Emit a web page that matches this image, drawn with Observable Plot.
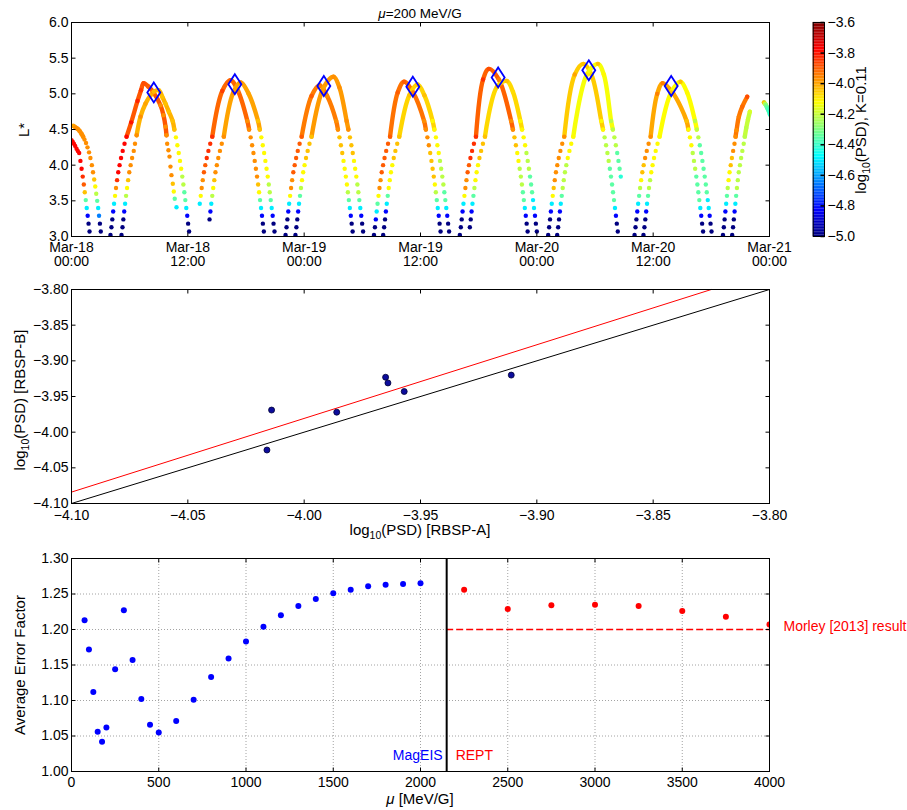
<!DOCTYPE html>
<html><head><meta charset="utf-8">
<script src="https://cdn.jsdelivr.net/npm/d3@7"></script>
<script src="https://cdn.jsdelivr.net/npm/@observablehq/plot@0.6"></script>
<style>
html,body{margin:0;padding:0;background:#fff;}
#chart{position:relative;width:907px;height:810px;font-family:"Liberation Sans",Arial,sans-serif;}
#chart svg{position:absolute;overflow:visible;background:transparent;font-family:"Liberation Sans",Arial,sans-serif;}
</style></head><body><div id="chart"></div>
<script>
// ---------------- DATA ----------------
// Top panel: L* vs time (hours after Mar-18 00:00), colour = log10(PSD); one array per pass
const trackA = [
 [[0,4.35,-3.78],[0.12,4.33,-3.78],[0.25,4.30,-3.78],[0.38,4.27,-3.78],[0.52,4.23,-3.78],[0.65,4.20,-3.78],[0.79,4.17,-3.78],[0.92,4.06,-3.78],[1.04,3.95,-3.78],[1.16,3.84,-3.84],[1.27,3.73,-3.9],[1.37,3.62,-4.04],[1.47,3.51,-4.35],[1.57,3.40,-4.5],[1.67,3.29,-4.82],[1.76,3.18,-5],[1.86,3.07,-5]],
 [[4.02,3.02,-5],[4.12,3.13,-5],[4.21,3.24,-5],[4.30,3.35,-4.82],[4.39,3.46,-4.5],[4.49,3.57,-4.12],[4.59,3.68,-3.97],[4.70,3.79,-3.84],[4.82,3.90,-3.78],[4.96,4.00,-3.78],[5.11,4.10,-3.78],[5.28,4.20,-3.78],[5.47,4.30,-3.78],[5.68,4.40,-3.78],[6.16,4.60,-3.8],[6.81,4.90,-3.82],[7.17,5.05,-3.85],[7.44,5.15,-3.88],[7.94,5.10,-3.9],[8.46,5.02,-3.93],[9.18,4.84,-3.97],[9.49,4.70,-3.97],[9.70,4.54,-3.97],[9.80,4.42,-3.97],[9.87,4.30,-3.97],[10.0,4.21,-3.97],[10.11,4.12,-3.97],[10.21,3.98,-3.97],[10.31,3.86,-3.97],[10.45,3.74,-4.04],[10.55,3.63,-4.12],[10.65,3.53,-4.35],[10.83,3.41,-4.5]],
 [[13.23,3.46,-4.5],[13.33,3.57,-4.12],[13.43,3.68,-3.97],[13.54,3.79,-3.97],[13.66,3.90,-3.9],[13.80,4.00,-3.9],[13.95,4.10,-3.84],[14.12,4.20,-3.84],[14.31,4.30,-3.84],[14.52,4.40,-3.84],[15.55,5.04,-3.86],[16.4,5.19,-3.9],[17.18,5.04,-3.95],[18.14,4.62,-3.97],[18.32,4.50,-3.97],[18.48,4.39,-3.97],[18.63,4.28,-3.97],[18.77,4.17,-3.97],[18.90,4.06,-3.97],[19.02,3.95,-3.97],[19.14,3.84,-3.97],[19.25,3.73,-4.04],[19.35,3.62,-4.12],[19.45,3.51,-4.35],[19.55,3.40,-4.5],[19.65,3.29,-4.82],[19.74,3.18,-5],[19.84,3.07,-5]],
 [[22.08,3.02,-5],[22.18,3.13,-5],[22.27,3.24,-5],[22.36,3.35,-4.82],[22.45,3.46,-4.5],[22.55,3.57,-4.12],[22.65,3.68,-3.97],[22.76,3.79,-3.97],[22.88,3.90,-3.9],[23.02,4.00,-3.9],[23.17,4.10,-3.9],[23.34,4.20,-3.9],[23.53,4.30,-3.9],[23.74,4.40,-3.9],[24.76,4.97,-3.9],[25.6,5.12,-3.95],[26.37,4.97,-3.97],[27.30,4.62,-3.97],[27.48,4.50,-3.97],[27.64,4.39,-4.04],[27.79,4.28,-4.04],[27.93,4.17,-4.04],[28.06,4.06,-4.12],[28.18,3.95,-4.12],[28.30,3.84,-4.12],[28.41,3.73,-4.12],[28.51,3.62,-4.22],[28.61,3.51,-4.35],[28.71,3.40,-4.5],[28.81,3.29,-4.82],[28.90,3.18,-5],[29.00,3.07,-5]],
 [[31.20,3.02,-5],[31.30,3.13,-5],[31.39,3.24,-4.82],[31.48,3.35,-4.5],[31.57,3.46,-4.35],[31.67,3.57,-4.12],[31.77,3.68,-3.97],[31.88,3.79,-3.97],[32.00,3.90,-3.9],[32.14,4.00,-3.9],[32.29,4.10,-3.9],[32.46,4.20,-3.9],[32.65,4.30,-3.9],[32.86,4.40,-3.9],[33.65,5.02,-3.9],[34.3,5.17,-3.9],[35.23,5.02,-3.95],[36.37,4.62,-3.97],[36.55,4.50,-3.97],[36.71,4.39,-3.97],[36.86,4.28,-3.97],[37.00,4.17,-4.04],[37.13,4.06,-4.04],[37.25,3.95,-4.04],[37.37,3.84,-4.04],[37.48,3.73,-4.12],[37.58,3.62,-4.22],[37.68,3.51,-4.35],[37.78,3.40,-4.5],[37.88,3.29,-4.82],[37.97,3.18,-5],[38.07,3.07,-5]],
 [[40.06,3.02,-5],[40.16,3.13,-5],[40.25,3.24,-5],[40.34,3.35,-4.82],[40.43,3.46,-4.5],[40.53,3.57,-4.12],[40.63,3.68,-3.97],[40.74,3.79,-3.97],[40.86,3.90,-3.9],[41.00,4.00,-3.9],[41.15,4.10,-3.84],[41.32,4.20,-3.84],[41.51,4.30,-3.84],[41.72,4.40,-3.84],[42.45,5.20,-3.84],[43.05,5.35,-3.88],[44.09,5.20,-3.95],[45.35,4.62,-3.97],[45.53,4.50,-3.97],[45.69,4.39,-4.04],[45.84,4.28,-4.04],[45.98,4.17,-4.12],[46.11,4.06,-4.12],[46.23,3.95,-4.22],[46.35,3.84,-4.22],[46.46,3.73,-4.22],[46.56,3.62,-4.35],[46.66,3.51,-4.35],[46.76,3.40,-4.5],[46.86,3.29,-4.82],[46.95,3.18,-5],[47.05,3.07,-5]],
 [[49.17,3.02,-5],[49.27,3.13,-5],[49.36,3.24,-5],[49.45,3.35,-4.82],[49.54,3.46,-4.5],[49.64,3.57,-4.12],[49.74,3.68,-4.04],[49.85,3.79,-3.97],[49.97,3.90,-3.97],[50.11,4.00,-3.97],[50.26,4.10,-3.97],[50.43,4.20,-3.97],[50.62,4.30,-3.97],[50.83,4.40,-3.97],[51.91,5.27,-4.0],[52.8,5.42,-4.04],[53.63,5.27,-4.08],[54.65,4.62,-4.12],[54.83,4.50,-4.12],[54.99,4.39,-4.22],[55.14,4.28,-4.22],[55.28,4.17,-4.22],[55.41,4.06,-4.22],[55.53,3.95,-4.35],[55.65,3.84,-4.35],[55.76,3.73,-4.35],[55.86,3.62,-4.35],[55.96,3.51,-4.35],[56.06,3.40,-4.5],[56.16,3.29,-4.82],[56.25,3.18,-5],[56.35,3.07,-5]],
 [[58.08,3.02,-5],[58.18,3.13,-5],[58.27,3.24,-5],[58.36,3.35,-4.82],[58.45,3.46,-4.5],[58.55,3.57,-4.35],[58.65,3.68,-4.22],[58.76,3.79,-4.12],[58.88,3.90,-4.04],[59.02,4.00,-4.04],[59.17,4.10,-3.97],[59.34,4.20,-3.97],[59.53,4.30,-3.97],[59.74,4.40,-3.97],[60.42,5.00,-3.95],[60.97,5.15,-3.95],[62.09,5.00,-4.0],[63.45,4.62,-4.04],[63.63,4.50,-4.12],[63.79,4.39,-4.12],[63.94,4.28,-4.12],[64.08,4.17,-4.22],[64.21,4.06,-4.22],[64.33,3.95,-4.22],[64.45,3.84,-4.35],[64.56,3.73,-4.35],[64.66,3.62,-4.35],[64.76,3.51,-4.35],[64.86,3.40,-4.5],[64.96,3.29,-4.82],[65.05,3.18,-5],[65.15,3.07,-5]],
 [[67.20,3.02,-5],[67.29,3.13,-5],[67.37,3.24,-5],[67.45,3.35,-4.82],[67.53,3.46,-4.5],[67.61,3.57,-4.35],[67.69,3.68,-4.22],[67.78,3.79,-4.12],[67.88,3.90,-4.12],[68.00,4.00,-4.04],[68.12,4.10,-4.04],[68.25,4.20,-3.97],[68.39,4.30,-3.97],[68.5,4.40,-3.97],[68.6,4.49,-3.97],[68.84,4.68,-3.95],[69.19,4.82,-3.92],[69.7,4.96,-3.88]],
 [[71.43,4.88,-4.04],[71.54,4.86,-4.22],[71.64,4.84,-4.3],[71.74,4.81,-4.35],[71.85,4.78,-4.38],[71.95,4.75,-4.4],[72.05,4.71,-4.42]]
];
const trackB = [
 [[0,4.55,-4.04],[0.2,4.55,-4.0],[0.41,4.53,-3.97],[0.62,4.51,-3.97],[0.83,4.48,-3.97],[1.03,4.44,-3.97],[1.2,4.40,-3.97],[1.34,4.36,-3.97],[1.5,4.31,-3.97],[1.65,4.25,-3.97],[1.81,4.18,-3.97],[1.95,4.10,-3.97],[2.10,4.00,-3.97],[2.22,3.90,-3.97],[2.34,3.80,-4.04],[2.45,3.70,-4.12],[2.55,3.60,-4.22],[2.65,3.50,-4.35],[2.75,3.40,-4.5],[2.84,3.29,-4.65],[2.93,3.18,-5],[3.02,3.07,-5]],
 [[5.16,3.02,-5],[5.26,3.13,-5],[5.35,3.24,-5],[5.44,3.35,-4.82],[5.53,3.46,-4.5],[5.63,3.57,-4.22],[5.73,3.68,-4.12],[5.84,3.79,-4.04],[5.96,3.90,-3.97],[6.10,4.00,-3.97],[6.25,4.10,-3.97],[6.42,4.20,-3.97],[6.55,4.30,-3.97],[6.72,4.42,-3.97],[7.12,4.68,-3.97],[7.63,4.86,-4.0],[8.15,4.98,-4.02],[8.49,5.03,-4.03],[9.0,5.05,-4.04],[9.36,4.96,-4.04],[9.70,4.86,-4.04],[10.04,4.75,-4.04],[10.43,4.62,-4.04],[10.61,4.50,-4.04],[10.77,4.39,-4.12],[10.92,4.28,-4.12],[11.06,4.17,-4.12],[11.19,4.06,-4.12],[11.31,3.95,-4.12],[11.43,3.84,-4.22],[11.54,3.73,-4.22],[11.64,3.62,-4.35],[11.74,3.51,-4.35],[11.84,3.40,-4.5],[11.94,3.29,-4.82],[12.03,3.18,-5],[12.13,3.07,-5]],
 [[14.24,3.24,-5],[14.33,3.35,-4.82],[14.42,3.46,-4.5],[14.52,3.57,-4.22],[14.62,3.68,-4.12],[14.73,3.79,-4.04],[14.85,3.90,-3.97],[14.99,4.00,-3.97],[15.14,4.10,-3.97],[15.31,4.20,-3.97],[15.50,4.30,-3.97],[15.71,4.40,-3.97],[16.66,5.01,-3.97],[17.43,5.16,-3.97],[18.24,5.01,-4.0],[19.24,4.62,-4.04],[19.42,4.50,-4.04],[19.58,4.39,-4.12],[19.73,4.28,-4.12],[19.87,4.17,-4.12],[20.00,4.06,-4.12],[20.12,3.95,-4.12],[20.24,3.84,-4.12],[20.35,3.73,-4.22],[20.45,3.62,-4.22],[20.55,3.51,-4.35],[20.65,3.40,-4.5],[20.75,3.29,-4.82],[20.84,3.18,-5],[20.94,3.07,-5]],
 [[23.10,3.02,-5],[23.20,3.13,-5],[23.29,3.24,-5],[23.38,3.35,-4.82],[23.47,3.46,-4.5],[23.57,3.57,-4.35],[23.67,3.68,-4.22],[23.78,3.79,-4.12],[23.90,3.90,-4.12],[24.04,4.00,-4.12],[24.19,4.10,-4.04],[24.36,4.20,-4.04],[24.55,4.30,-4.04],[24.76,4.40,-4.04],[26.01,5.09,-4.0],[27.03,5.24,-3.97],[27.64,5.09,-3.97],[28.38,4.62,-3.97],[28.56,4.50,-3.97],[28.72,4.39,-4.04],[28.87,4.28,-4.04],[29.01,4.17,-4.04],[29.14,4.06,-4.12],[29.26,3.95,-4.12],[29.38,3.84,-4.12],[29.49,3.73,-4.22],[29.59,3.62,-4.22],[29.69,3.51,-4.35],[29.79,3.40,-4.5],[29.89,3.29,-4.82],[29.98,3.18,-5],[30.08,3.07,-5]],
 [[32.15,3.02,-5],[32.25,3.13,-5],[32.34,3.24,-5],[32.43,3.35,-4.82],[32.52,3.46,-4.5],[32.62,3.57,-4.35],[32.72,3.68,-4.12],[32.83,3.79,-4.12],[32.95,3.90,-4.12],[33.09,4.00,-4.12],[33.24,4.10,-4.04],[33.41,4.20,-4.04],[33.60,4.30,-4.04],[33.81,4.40,-4.04],[34.85,4.98,-4.04],[35.7,5.13,-4.04],[36.40,4.98,-4.04],[37.25,4.62,-4.12],[37.43,4.50,-4.12],[37.59,4.39,-4.12],[37.74,4.28,-4.12],[37.88,4.17,-4.12],[38.01,4.06,-4.22],[38.13,3.95,-4.22],[38.25,3.84,-4.22],[38.36,3.73,-4.22],[38.46,3.62,-4.35],[38.56,3.51,-4.35],[38.66,3.40,-4.5],[38.76,3.29,-4.82],[38.85,3.18,-5],[38.95,3.07,-5]],
 [[41.09,3.13,-5],[41.18,3.24,-5],[41.27,3.35,-4.82],[41.36,3.46,-4.5],[41.46,3.57,-4.35],[41.56,3.68,-4.22],[41.67,3.79,-4.12],[41.79,3.90,-4.12],[41.93,4.00,-4.12],[42.08,4.10,-4.04],[42.25,4.20,-4.04],[42.44,4.30,-4.04],[42.65,4.40,-4.04],[43.89,5.10,-4.04],[44.9,5.18,-4.04],[45.53,5.03,-4.08],[46.30,4.62,-4.12],[46.48,4.50,-4.12],[46.64,4.39,-4.12],[46.79,4.28,-4.12],[46.93,4.17,-4.22],[47.06,4.06,-4.22],[47.18,3.95,-4.22],[47.30,3.84,-4.35],[47.41,3.73,-4.35],[47.51,3.62,-4.35],[47.61,3.51,-4.5],[47.71,3.40,-4.5],[47.81,3.29,-4.82],[47.90,3.18,-5],[48.00,3.07,-5]],
 [[50.10,3.02,-5],[50.20,3.13,-5],[50.29,3.24,-5],[50.38,3.35,-4.82],[50.47,3.46,-4.5],[50.57,3.57,-4.35],[50.67,3.68,-4.22],[50.78,3.79,-4.22],[50.90,3.90,-4.22],[51.04,4.00,-4.22],[51.19,4.10,-4.12],[51.36,4.20,-4.12],[51.55,4.30,-4.12],[51.76,4.40,-4.12],[53.16,5.27,-4.1],[54.3,5.42,-4.04],[54.91,5.27,-4.12],[55.66,4.62,-4.22],[55.84,4.50,-4.22],[56.00,4.39,-4.22],[56.15,4.28,-4.22],[56.29,4.17,-4.35],[56.42,4.06,-4.35],[56.54,3.95,-4.35],[56.66,3.84,-4.42]],
 [[59.00,3.02,-5],[59.10,3.13,-5],[59.19,3.24,-5],[59.28,3.35,-4.82],[59.37,3.46,-4.5],[59.47,3.57,-4.35],[59.57,3.68,-4.22],[59.68,3.79,-4.22],[59.80,3.90,-4.12],[59.94,4.00,-4.12],[60.09,4.10,-4.12],[60.26,4.20,-4.12],[60.45,4.30,-4.12],[60.66,4.40,-4.12],[61.85,5.02,-4.04],[62.82,5.17,-4.04],[63.50,5.02,-4.12],[64.32,4.62,-4.22],[64.50,4.50,-4.22],[64.66,4.39,-4.22],[64.81,4.28,-4.35],[64.95,4.17,-4.35],[65.08,4.06,-4.35],[65.20,3.95,-4.35],[65.32,3.84,-4.35],[65.43,3.73,-4.35],[65.53,3.62,-4.35],[65.63,3.51,-4.5],[65.73,3.40,-4.5],[65.83,3.29,-4.82],[65.92,3.18,-5],[66.02,3.07,-5]],
 [[68.15,3.02,-5],[68.24,3.13,-5],[68.32,3.24,-5],[68.40,3.35,-4.82],[68.48,3.46,-4.5],[68.56,3.57,-4.35],[68.64,3.68,-4.22],[68.73,3.79,-4.22],[68.83,3.90,-4.22],[68.95,4.00,-4.22],[69.07,4.10,-4.22],[69.20,4.20,-4.22],[69.34,4.30,-4.22],[69.45,4.40,-4.22],[69.6,4.52,-4.22],[69.78,4.64,-4.2],[69.97,4.75,-4.18]]
];
// conjunction markers [hours, L*]
const conjunctions = [[8.49,5.02],[16.85,5.135],[26.03,5.11],[35.21,5.10],[44.01,5.23],[53.36,5.33],[61.86,5.11]];
const timeTicks = [0,12,24,36,48,60,72];
const timeTickDates = ["Mar-18","Mar-18","Mar-19","Mar-19","Mar-20","Mar-20","Mar-21"];
const timeTickClock = ["00:00","12:00","00:00","12:00","00:00","12:00","00:00"];
const lTicks = [3.0,3.5,4.0,4.5,5.0,5.5,6.0];
const psdTicks = [-5.0,-4.8,-4.6,-4.4,-4.2,-4.0,-3.8,-3.6];

// Middle panel
const psdRbspA = [-4.016,-4.014,-3.986,-3.965,-3.964,-3.957,-3.911];
const psdRbspB = [-4.025,-3.969,-3.972,-3.923,-3.931,-3.943,-3.920];
const oneToOne = [[-4.10,-4.10],[-3.80,-3.80]];
const fitLine = [[-4.10,-4.084],[-3.825,-3.80]];
const compTicks = [-4.10,-4.05,-4.00,-3.95,-3.90,-3.85,-3.80];

// Bottom panel
const mageisMu = [75,100,125,150,175,200,250,300,350,400,450,500,600,700,800,900,1000,1100,1200,1300,1400,1500,1600,1700,1800,1900,2000];
const mageisErr = [1.213,1.172,1.112,1.056,1.042,1.062,1.144,1.227,1.157,1.102,1.066,1.055,1.071,1.101,1.133,1.159,1.183,1.204,1.220,1.233,1.243,1.251,1.256,1.261,1.263,1.264,1.265];
const reptMu = [2250,2500,2750,3000,3250,3500,3750,4000];
const reptErr = [1.256,1.229,1.234,1.235,1.233,1.226,1.218,1.207];
const instrumentSplit = 2150;
const morleyResult = 1.20;
const muTicks = [0,500,1000,1500,2000,2500,3000,3500,4000];
const errTicks = [1.00,1.05,1.10,1.15,1.20,1.25,1.30];

// ---------------- RENDER ----------------
(function(){
const FONT = "Liberation Sans, Arial, sans-serif";
function jet(t){
  const c = v => Math.max(0, Math.min(1, v));
  const r = c(1.5 - Math.abs(4*t - 3)), g = c(1.5 - Math.abs(4*t - 2)), b = c(1.5 - Math.abs(4*t - 1));
  return `rgb(${Math.round(r*255)},${Math.round(g*255)},${Math.round(b*255)})`;
}
const colorSpec = {type: "linear", domain: [-5, -3.6], interpolate: jet, clamp: true};
const tickSym = (dx, dy) => ({draw(ctx){ ctx.moveTo(0,0); ctx.lineTo(dx,dy); }});
const diamondSym = {draw(ctx){ ctx.moveTo(0,-10); ctx.lineTo(6.5,0); ctx.lineTo(0,10); ctx.lineTo(-6.5,0); ctx.closePath(); }};

function axisMarks(xTicks, yTicks, xText, yText, xDy, xText2){
  const T = 4;
  const marks = [
    Plot.frame({stroke: "#000", strokeWidth: 1}),
    Plot.dot(xTicks, {x: d => d, frameAnchor: "bottom", symbol: tickSym(0,-T), stroke: "#000", fill: "none", strokeWidth: 1}),
    Plot.dot(xTicks, {x: d => d, frameAnchor: "top", symbol: tickSym(0,T), stroke: "#000", fill: "none", strokeWidth: 1}),
    Plot.dot(yTicks, {y: d => d, frameAnchor: "left", symbol: tickSym(T,0), stroke: "#000", fill: "none", strokeWidth: 1}),
    Plot.dot(yTicks, {y: d => d, frameAnchor: "right", symbol: tickSym(-T,0), stroke: "#000", fill: "none", strokeWidth: 1}),
    Plot.text(xTicks, {x: d => d, text: xText, frameAnchor: "bottom", lineAnchor: "top", dy: xDy, fontSize: 14, fill: "#000"}),
    Plot.text(yTicks, {y: d => d, text: yText, frameAnchor: "left", textAnchor: "end", dx: -3, fontSize: 14, fill: "#000"})
  ];
  if (xText2) marks.push(Plot.text(xTicks, {x: d => d, text: xText2, frameAnchor: "bottom", lineAnchor: "top", dy: xDy + 14, fontSize: 14, fill: "#000"}));
  return marks;
}
const chart = document.getElementById("chart");
function place(svg, left, topPx){
  svg.style.position = "absolute"; svg.style.left = left + "px"; svg.style.top = topPx + "px";
  svg.style.background = "transparent"; svg.style.overflow = "visible";
  chart.appendChild(svg);
}
const baseStyle = {fontFamily: FONT, fontSize: "14px", background: "transparent", overflow: "visible"};

const rows = [];
[trackA, trackB].forEach((track, s) => track.forEach((pass, p) => {
  const band = pass.filter(d => d[1] >= 4.395);
  const bandPsd = band.length ? d3.mean(band, d => d[2]) : null;
  pass.forEach(([t, L, psd]) => rows.push({id: s*100 + p, t, L, psd, bandPsd}));
}));
const bandRows = rows.filter(d => d.L >= 4.395);

const topPlot = Plot.plot({
  width: 790, height: 270, marginLeft: 71, marginRight: 21, marginTop: 22, marginBottom: 34,
  style: baseStyle,
  x: {domain: [0, 72], axis: null},
  y: {domain: [3, 6], axis: null},
  color: colorSpec,
  marks: [
    Plot.line(bandRows, {x: "t", y: "L", z: "id", stroke: "bandPsd", strokeWidth: 4.4, curve: "catmull-rom", strokeLinecap: "round", strokeLinejoin: "round", clip: true}),
    Plot.dot(rows, {x: "t", y: "L", r: 2.2, fill: "psd", clip: true}),
    Plot.dot(conjunctions, {x: d => d[0], y: d => d[1], symbol: diamondSym, stroke: "#0000ff", fill: "none", strokeWidth: 1.8}),
    ...axisMarks(timeTicks, lTicks, (d, i) => timeTickDates[i], d => d3.format(".1f")(d), 6, (d, i) => timeTickClock[i])
  ]
});
place(topPlot, 0, 0);

const cbSteps = d3.range(0, 140).map(i => -5 + i * 0.01);
const cbarPlot = Plot.plot({
  width: 117, height: 270, marginLeft: 22.7, marginRight: 83, marginTop: 22, marginBottom: 34,
  style: baseStyle,
  x: {domain: [0, 1], axis: null},
  y: {domain: [-5, -3.6], axis: null},
  color: colorSpec,
  marks: [
    Plot.rect(cbSteps, {x1: 0, x2: 1, y1: d => d, y2: d => d + 0.0105, fill: d => d + 0.005}),
    Plot.frame({stroke: "#000", strokeWidth: 1}),
    Plot.dot(psdTicks, {y: d => d, frameAnchor: "right", symbol: tickSym(-4,0), stroke: "#000", fill: "none"}),
    Plot.text(psdTicks, {y: d => d, text: d => d3.format(".1f")(d), frameAnchor: "right", textAnchor: "start", dx: 3, fontSize: 14, fill: "#000"})
  ]
});
place(cbarPlot, 790, 0);

const comp = psdRbspA.map((a, i) => [a, psdRbspB[i]]);
const midPlot = Plot.plot({
  width: 907, height: 273, marginLeft: 71, marginRight: 138, marginTop: 19, marginBottom: 40,
  style: baseStyle,
  x: {domain: [-4.10, -3.80], axis: null},
  y: {domain: [-4.10, -3.80], axis: null},
  marks: [
    Plot.line(oneToOne, {x: d => d[0], y: d => d[1], stroke: "#000", strokeWidth: 1}),
    Plot.line(fitLine, {x: d => d[0], y: d => d[1], stroke: "#ff0000", strokeWidth: 1}),
    Plot.dot(comp, {x: d => d[0], y: d => d[1], r: 3, fill: "#0c0c9c", stroke: "#000033", strokeWidth: 0.8}),
    ...axisMarks(compTicks, compTicks, d => d3.format(".2f")(d), d => d3.format(".2f")(d), 6.5)
  ]
});
place(midPlot, 0, 270);

const mag = mageisMu.map((m, i) => [m, mageisErr[i]]);
const rep = reptMu.map((m, i) => [m, reptErr[i]]);
const botPlot = Plot.plot({
  width: 907, height: 267, marginLeft: 71, marginRight: 138, marginTop: 15, marginBottom: 39,
  style: baseStyle,
  x: {domain: [0, 4000], axis: null},
  y: {domain: [1.0, 1.3], axis: null},
  marks: [
    Plot.ruleX(muTicks.slice(1, -1), {stroke: "#8c8c8c", strokeWidth: 0.8, strokeDasharray: "1,2"}),
    Plot.ruleY(errTicks.slice(1, -1).filter(v => v !== morleyResult), {stroke: "#8c8c8c", strokeWidth: 0.8, strokeDasharray: "1,2"}),
    Plot.ruleY([morleyResult], {x1: 0, x2: instrumentSplit, stroke: "#8c8c8c", strokeWidth: 0.8, strokeDasharray: "1,2"}),
    Plot.ruleY([morleyResult], {x1: instrumentSplit, x2: 4000, stroke: "red", strokeWidth: 1.5, strokeDasharray: "7,3", strokeOpacity: 1}),
    Plot.ruleX([instrumentSplit], {stroke: "#000", strokeWidth: 2}),
    Plot.dot(mag, {x: d => d[0], y: d => d[1], r: 3, fill: "#0000ff", clip: true}),
    Plot.dot(rep, {x: d => d[0], y: d => d[1], r: 3, fill: "#ff0000", clip: true}),
    Plot.text(["MagEIS"], {x: instrumentSplit, frameAnchor: "bottom", text: d => d, textAnchor: "end", dx: -4, dy: -12, fontSize: 14, fill: "#0000ff"}),
    Plot.text(["REPT"], {x: instrumentSplit, frameAnchor: "bottom", text: d => d, textAnchor: "start", dx: 9, dy: -12, fontSize: 14, fill: "#ff0000"}),
    Plot.text(["Morley [2013] result"], {x: 4000, y: morleyResult, text: d => d, textAnchor: "start", dx: 14, dy: -3, fontSize: 14, fill: "#ff0000"}),
    ...axisMarks(muTicks, errTicks, d => String(d), d => d3.format(".2f")(d), 6)
  ]
});
place(botPlot, 0, 543);

const ov = d3.create("svg").attr("width", 907).attr("height", 810)
  .attr("font-family", FONT).style("pointer-events", "none");
function label(x, y, parts, {size = 15, rotate = 0} = {}){
  const t = ov.append("text").attr("transform", `translate(${x},${y})` + (rotate ? ` rotate(${rotate})` : ""))
    .attr("text-anchor", "middle").attr("font-size", size).attr("fill", "#000");
  let shifted = false;
  parts.forEach(p => {
    const s = t.append("tspan").text(p.t);
    if (p.sub) { s.attr("font-size", size * 0.7).attr("dy", size * 0.28); shifted = true; }
    else if (shifted) { s.attr("dy", -size * 0.28); shifted = false; }
    if (p.it) s.attr("font-style", "italic");
  });
}
label(420, 18, [{t: "\u03bc", it: true}, {t: "=200 MeV/G"}], {size: 13.5});
label(29, 130, [{t: "L*"}], {rotate: -90});
label(866, 130, [{t: "log"}, {t: "10", sub: true}, {t: "(PSD), K=0.11"}], {rotate: -90});
label(25, 400, [{t: "log"}, {t: "10", sub: true}, {t: "(PSD) [RBSP-B]"}], {rotate: -90});
label(420, 535, [{t: "log"}, {t: "10", sub: true}, {t: "(PSD) [RBSP-A]"}]);
label(25, 665, [{t: "Average Error Factor"}], {rotate: -90});
label(420, 804, [{t: "\u03bc", it: true}, {t: " [MeV/G]"}]);
place(ov.node(), 0, 0);
})();
</script></body></html>
